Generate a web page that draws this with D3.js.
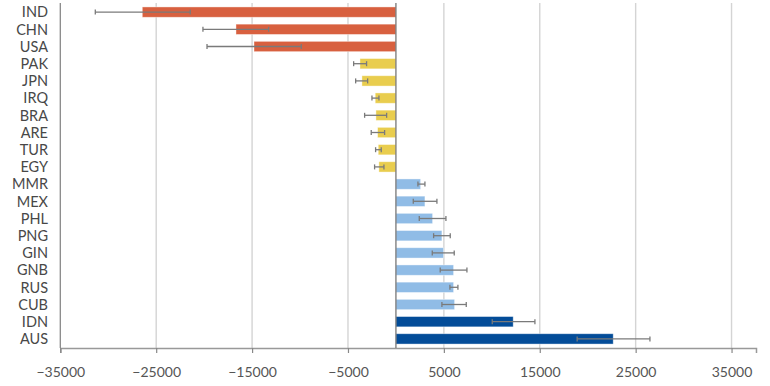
<!DOCTYPE html>
<html>
<head>
<meta charset="utf-8">
<script src="https://cdn.jsdelivr.net/npm/d3@7"></script>
<style>
  body { margin: 0; background: #fff; }
  svg text { font-family: Lato, "Open Sans", sans-serif; }
</style>
</head>
<body>
<div id="chart"></div>
<script>
// chart values
var countries = ["IND", "CHN", "USA", "PAK", "JPN", "IRQ", "BRA", "ARE", "TUR", "EGY",
                 "MMR", "MEX", "PHL", "PNG", "GIN", "GNB", "RUS", "CUB", "IDN", "AUS"];
var values = [-26450, -16680, -14800, -3750, -3545, -2160, -2085, -1910, -1845, -1775,
              2575, 3025, 3825, 4795, 4970, 6015, 6015, 6120, 12230, 22660];
var errLow = [-31350, -20125, -19700, -4410, -4200, -2500, -3265, -2575, -2120, -2225,
              2295, 1810, 2435, 3930, 3790, 4620, 5630, 4795, 10045, 18900];
var errHigh = [-21450, -13270, -9870, -3060, -2950, -1770, -970, -1180, -1530, -1250,
               3025, 4275, 5215, 5665, 6080, 7405, 6465, 7335, 14495, 26490];
var groups = ["high", "high", "high", "mid", "mid", "mid", "mid", "mid", "mid", "mid",
              "low", "low", "low", "low", "low", "low", "low", "low", "top", "top"];
var xTicks = [-35000, -25000, -15000, -5000, 5000, 15000, 25000, 35000];

var colors = {high: "#d8603f", mid: "#e9cd4e", low: "#90bce6", top: "#034c98"};

var width = 770, height = 386;

var svg = d3.select("#chart")
    .append("svg")
    .attr("width", width)
    .attr("height", height);

// scales
var x = d3.scaleLinear()
    .domain([-35000, 37550])
    .range([60.3, 756]);

var y = d3.scaleBand()
    .domain(countries)
    .range([3.5, 347.5])
    .paddingInner(0.4)
    .paddingOuter(0.2);

// gridlines
svg.append("g")
    .selectAll("line")
    .data(xTicks.slice(1))
    .enter()
    .append("line")
    .attr("x1", function (d) { return x(d); })
    .attr("x2", function (d) { return x(d); })
    .attr("y1", 3)
    .attr("y2", 348)
    .attr("stroke", "#d4d4d4")
    .attr("stroke-width", 1.4);

// X axis
var xAxis = d3.axisBottom(x)
    .tickValues(xTicks)
    .tickSize(5)
    .tickPadding(14.5)
    .tickFormat(d3.format("d"));

var gx = svg.append("g")
    .attr("transform", "translate(0,348)")
    .call(xAxis);
gx.select(".domain").attr("stroke", "#999").attr("stroke-width", 1.5);
gx.selectAll(".tick line").attr("stroke", "#888").attr("stroke-width", 1.2);
gx.selectAll("text")
    .style("font-size", "14px")
    .style("fill", "#555");

// left axis line
svg.append("line")
    .attr("x1", x(-35000))
    .attr("x2", x(-35000))
    .attr("y1", 3)
    .attr("y2", 348)
    .attr("stroke", "#888")
    .attr("stroke-width", 1.3);

// bars
svg.selectAll("rect.bar")
    .data(countries)
    .enter()
    .append("rect")
    .attr("class", "bar")
    .attr("x", function (d, i) { return x(Math.min(0, values[i])); })
    .attr("width", function (d, i) { return Math.abs(x(values[i]) - x(0)); })
    .attr("y", function (d) { return y(d); })
    .attr("height", y.bandwidth())
    .attr("fill", function (d, i) { return colors[groups[i]]; })
    .attr("stroke", "#ffffff")
    .attr("stroke-opacity", 0.5)
    .attr("stroke-width", 0.8);

// zero line
svg.append("line")
    .attr("x1", x(0))
    .attr("x2", x(0))
    .attr("y1", 3)
    .attr("y2", 348)
    .attr("stroke", "#777")
    .attr("stroke-width", 1.3);

// category labels
svg.selectAll("text.cat")
    .data(countries)
    .enter()
    .append("text")
    .attr("class", "cat")
    .attr("x", 48)
    .attr("y", function (d) { return y(d) + y.bandwidth() / 2; })
    .attr("dy", "0.36em")
    .attr("text-anchor", "end")
    .style("font-size", "14.5px")
    .style("fill", "#484848")
    .text(function (d) { return d; });

// error bars
var err = svg.append("g")
    .attr("stroke", "#7a7a7a")
    .attr("stroke-width", 1.3);

err.selectAll("line.err")
    .data(countries)
    .enter()
    .append("line")
    .attr("x1", function (d, i) { return x(errLow[i]); })
    .attr("x2", function (d, i) { return x(errHigh[i]); })
    .attr("y1", function (d) { return y(d) + y.bandwidth() / 2; })
    .attr("y2", function (d) { return y(d) + y.bandwidth() / 2; });

[errLow, errHigh].forEach(function (arr) {
    err.append("g")
        .selectAll("line")
        .data(countries)
        .enter()
        .append("line")
        .attr("x1", function (d, i) { return x(arr[i]); })
        .attr("x2", function (d, i) { return x(arr[i]); })
        .attr("y1", function (d) { return y(d) + y.bandwidth() / 2 - 2.5; })
        .attr("y2", function (d) { return y(d) + y.bandwidth() / 2 + 2.5; });
});
</script>
</body>
</html>
